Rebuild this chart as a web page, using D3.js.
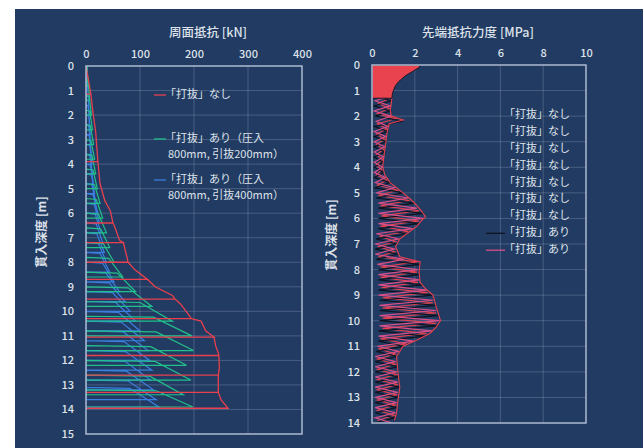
<!DOCTYPE html>
<html><head><meta charset="utf-8">
<script src="https://cdn.jsdelivr.net/npm/d3@7"></script>
<style>body{margin:0;background:#fff}svg{display:block}</style>
</head><body><svg id="c" width="643" height="448"></svg>
<script>
// ---------- LEFT CHART DATA : 周面抵抗 [kN] vs 貫入深度 [m] ----------
const sideTicksX = [0, 100, 200, 300, 400];
const sideTicksY = [0,1,2,3,4,5,6,7,8,9,10,11,12,13,14,15];
// 「打抜」なし  (drop = 1 : load falls back to 0 at that depth)
const redDepth = [0, 0.5, 1.15, 1.9, 2.7, 3.3, 3.9, 4.8, 5.5, 5.9, 6.4, 6.6, 7.1, 7.2, 7.8, 8.0, 8.3, 8.7, 9.0, 9.35, 9.5, 9.7, 10.1, 10.3, 10.4, 10.8, 11.05, 11.4, 11.7, 11.8, 12.3, 12.6, 12.7, 13.2, 13.3, 13.6, 13.95];
const redLoad  = [0, 4, 9, 13, 18, 20, 22, 26, 35, 45, 50, 54, 62, 69, 76, 78, 90, 114, 128, 160, 165, 175, 189, 195, 213, 222, 237, 240, 245, 246, 247, 245, 245, 245, 245, 250, 263];
const redDrop  = [0, 0, 1, 0, 0, 0, 1, 0, 0, 0, 1, 0, 0, 1, 0, 1, 0, 1, 0, 0, 1, 0, 0, 1, 0, 0, 1, 0, 0, 1, 0, 1, 0, 0, 1, 0, 1];
// 「打抜」あり（圧入800mm, 引抜200mm）
const greenTop    = [0, 0.6, 1.2, 1.8, 2.4, 3.0, 3.6, 4.2, 4.8, 5.4, 6.0, 6.6, 7.2, 7.8, 8.4, 9.0, 9.6, 10.2, 10.8, 11.4, 12.0, 12.6, 13.2];
const greenBottom = [0.8, 1.4, 2.0, 2.6, 3.2, 3.8, 4.4, 5.0, 5.6, 6.2, 6.8, 7.4, 8.0, 8.6, 9.2, 9.8, 10.4, 11.0, 11.6, 12.2, 12.8, 13.4, 13.9];
const greenStart  = [2, 4, 6, 7, 8, 9, 11, 13, 16, 19, 23, 27, 32, 42, 58, 78, 100, 125, 130, 120, 128, 118, 130];
const greenPeak   = [4, 7, 10, 12, 14, 16, 18, 21, 26, 31, 38, 44, 52, 68, 92, 122, 160, 196, 199, 186, 194, 180, 198];
// 「打抜」あり（圧入800mm, 引抜400mm）
const blueTop    = [0, 0.4, 0.8, 1.2, 1.6, 2.0, 2.4, 2.8, 3.2, 3.6, 4.0, 4.4, 4.8, 5.2, 5.6, 6.0, 6.4, 6.8, 7.2, 7.6, 8.0, 8.4, 8.8, 9.2, 9.6, 10.0, 10.4, 10.8, 11.2, 11.6, 12.0, 12.4, 12.8, 13.1];
const blueBottom = [0.8, 1.2, 1.6, 2.0, 2.4, 2.8, 3.2, 3.6, 4.0, 4.4, 4.8, 5.2, 5.6, 6.0, 6.4, 6.8, 7.2, 7.6, 8.0, 8.4, 8.8, 9.2, 9.6, 10.0, 10.4, 10.8, 11.2, 11.6, 12.0, 12.4, 12.8, 13.2, 13.6, 13.9];
const blueStart  = [2, 2, 3, 4, 4, 5, 5, 6, 7, 7, 8, 10, 11, 13, 15, 17, 19, 20, 23, 26, 31, 37, 43, 49, 55, 60, 65, 69, 71, 73, 72, 75, 78, 81];
const bluePeak   = [3, 4, 5, 6, 7, 8, 9, 10, 11, 12, 14, 16, 19, 22, 25, 28, 31, 34, 38, 44, 52, 62, 72, 82, 92, 100, 108, 115, 118, 122, 120, 125, 130, 135];

// ---------- RIGHT CHART DATA : 先端抵抗力度 [MPa] vs 貫入深度 [m] ----------
const tipTicksX = [0, 2, 4, 6, 8, 10];
const tipTicksY = [0,1,2,3,4,5,6,7,8,9,10,11,12,13,14];
// 「打抜」なし : near-surface band, envelope and hatch
const tipTopDepth = [0, 0.1, 0.25, 0.4, 0.5, 0.65, 0.8, 1.0, 1.15, 1.3];
const tipTopValue = [2.25, 2.2, 1.9, 1.6, 1.45, 1.25, 1.1, 1.0, 0.95, 0.93];
const tipEnvDepth = [1.3, 1.5, 1.75, 2.0, 2.15, 2.3, 2.66, 3.0, 3.3, 3.6, 4.0, 4.3, 4.6, 5.0, 5.25, 5.5, 5.75, 5.93, 6.1, 6.3, 6.55, 6.8, 7.1, 7.5, 7.7, 8.1, 8.5, 8.75, 9.0, 9.45, 10.0, 10.25, 10.5, 10.75, 11.0, 11.4, 11.9, 12.3, 12.6, 13.2, 13.6, 13.9];
const tipEnvValue = [0.93, 0.9, 0.85, 0.9, 1.45, 0.8, 0.7, 0.65, 0.6, 0.55, 0.5, 0.6, 0.85, 1.45, 1.8, 2.1, 2.35, 2.5, 2.3, 2.1, 1.7, 1.3, 1.1, 1.3, 2.25, 2.2, 2.25, 2.5, 2.85, 3.0, 3.2, 3.0, 2.7, 2.1, 1.45, 1.15, 1.2, 1.25, 1.3, 1.2, 1.15, 1.05];
const tipHatchDepth = [1.3,1.5,1.7,1.9,2.1,2.3,2.5,2.7,2.9,3.1,3.3,3.5,3.7,3.9,4.1,4.3,4.5,4.7,4.9,5.1,5.3,5.5,5.7,5.9,6.1,6.3,6.5,6.7,6.9,7.1,7.3,7.5,7.7,7.9,8.1,8.3,8.5,8.7,8.9,9.1,9.3,9.5,9.7,9.9,10.1,10.3,10.5,10.7,10.9,11.1,11.3,11.5,11.7,11.9,12.1,12.3,12.5,12.7,12.9,13.1,13.3,13.5,13.7,13.9];
const tipRed = [0.85,0.3,0.8,0.25,1.1,0.25,0.7,0.2,0.6,0.2,0.55,0.2,0.5,0.2,0.45,0.2,0.7,0.25,1.2,0.3,1.75,0.4,2.2,0.45,2.2,0.4,1.7,0.35,1.1,0.3,1.05,0.3,2.1,0.4,2.1,0.4,2.15,0.45,2.6,0.5,2.85,0.5,3.0,0.5,3.0,0.5,2.55,0.4,1.6,0.3,1.1,0.25,1.1,0.25,1.15,0.25,1.2,0.25,1.15,0.25,1.1,0.25,1.05,0.25];
// 「打抜」あり (two runs)
const tipCycDepth = [1.2,1.4,1.6,1.8,2.0,2.2,2.4,2.6,2.8,3.0,3.2,3.4,3.6,3.8,4.0,4.2,4.4,4.6,4.8,5.0,5.2,5.4,5.6,5.8,6.0,6.2,6.4,6.6,6.8,7.0,7.2,7.4,7.6,7.8,8.0,8.2,8.4,8.6,8.8,9.0,9.2,9.4,9.6,9.8,10.0,10.2,10.4,10.6,10.8,11.0,11.2,11.4,11.6,11.8,12.0,12.2,12.4,12.6,12.8,13.0,13.2,13.4,13.6,13.8,14.0];
const tipPink  = [0.9,0.15,0.85,0.1,0.9,0.2,0.75,0.1,0.65,0.1,0.6,0.1,0.55,0.1,0.5,0.1,0.62,0.15,1.05,0.2,1.7,0.3,2.1,0.3,2.4,0.3,1.9,0.2,1.25,0.15,1.05,0.15,1.5,0.25,2.15,0.3,2.2,0.3,2.55,0.3,2.85,0.35,3.0,0.35,3.15,0.35,2.8,0.3,1.95,0.25,1.25,0.15,1.1,0.15,1.15,0.15,1.2,0.15,1.2,0.15,1.15,0.15,1.1,0.15,0.95];
const tipBlack = [0.1,0.9,0.1,0.85,0.15,1.45,0.1,0.72,0.1,0.65,0.1,0.6,0.1,0.52,0.1,0.55,0.1,0.85,0.15,1.45,0.2,2.0,0.3,2.4,0.3,2.2,0.3,1.65,0.2,1.15,0.15,1.2,0.2,2.25,0.3,2.2,0.3,2.35,0.3,2.85,0.35,3.0,0.35,3.1,0.35,3.05,0.3,2.5,0.3,1.45,0.2,1.15,0.15,1.2,0.15,1.25,0.15,1.3,0.15,1.2,0.15,1.15,0.15,1.05,0.1];

const legendLeft = [
  {lines:["「打抜」なし"], color:"#e8404e", y:95},
  {lines:["「打抜」あり（圧入","800mm, 引抜200mm）"], color:"#22c08a", y:139},
  {lines:["「打抜」あり（圧入","800mm, 引抜400mm）"], color:"#3a7fe0", y:180}
];
const legendRight = ["「打抜」なし","「打抜」なし","「打抜」なし","「打抜」なし","「打抜」なし","「打抜」なし","「打抜」なし","「打抜」あり","「打抜」あり"];
const legendRightColor = [null,null,null,null,null,null,null,"#0e1420","#d8508a"];

// ---------- DRAWING ----------
const FONT = '"Noto Sans CJK JP","Noto Sans",sans-serif';
const TXT = "#dde2ea";
const svg = d3.select("#c");
svg.append("rect").attr("x",15).attr("y",9).attr("width",628).attr("height",439).attr("fill","#223b62");

const xL = d3.scaleLinear().domain([0,400]).range([86,302]);
const yL = d3.scaleLinear().domain([0,15]).range([66,434]);
const xR = d3.scaleLinear().domain([0,10]).range([372,586]);
const yR = d3.scaleLinear().domain([0,14]).range([65,423]);

function frame(x, y, tx, ty, id) {
  const g = svg.append("g");
  g.selectAll(".gv").data(tx.slice(1,-1)).join("line")
    .attr("x1",d=>x(d)).attr("x2",d=>x(d)).attr("y1",y.range()[0]).attr("y2",y.range()[1])
    .attr("stroke","#8fa0bd").attr("stroke-opacity",0.35).attr("stroke-width",1);
  g.selectAll(".gh").data(ty.slice(1,-1)).join("line")
    .attr("y1",d=>y(d)).attr("y2",d=>y(d)).attr("x1",x.range()[0]).attr("x2",x.range()[1])
    .attr("stroke","#8fa0bd").attr("stroke-opacity",0.35).attr("stroke-width",1);
  const ax = g.append("g").attr("transform",`translate(0,${y.range()[0]-8})`)
    .call(d3.axisTop(x).tickValues(tx).tickSize(0).tickPadding(0));
  ax.select(".domain").remove();
  ax.selectAll("text").attr("fill",TXT).attr("font-family",FONT).attr("font-size",11).attr("font-weight",500);
  const ay = g.append("g").attr("transform",`translate(${x.range()[0]-8},0)`)
    .call(d3.axisLeft(y).tickValues(ty).tickSize(0).tickPadding(4));
  ay.select(".domain").remove();
  ay.selectAll("text").attr("fill",TXT).attr("font-family",FONT).attr("font-size",11).attr("font-weight",500);
  svg.append("clipPath").attr("id",id).append("rect")
    .attr("x",x.range()[0]).attr("y",y.range()[0])
    .attr("width",x.range()[1]-x.range()[0]).attr("height",y.range()[1]-y.range()[0]);
  return g;
}
function border(x, y) {
  svg.append("rect").attr("x",x.range()[0]).attr("y",y.range()[0])
    .attr("width",x.range()[1]-x.range()[0]).attr("height",y.range()[1]-y.range()[0])
    .attr("fill","none").attr("stroke","#aebbd0").attr("stroke-width",1.5);
}

// LEFT
frame(xL, yL, sideTicksX, sideTicksY, "clipL");
const gL = svg.append("g").attr("clip-path","url(#clipL)");
const lineL = d3.line().x(d=>xL(d[1])).y(d=>yL(d[0]));
function cyclePts(top, bottom, start, peak) {
  const pts = [];
  top.forEach((t,i)=>{
    pts.push([t,0]); pts.push([t+0.04,start[i]]); pts.push([bottom[i],peak[i]]); pts.push([bottom[i],0]);
  });
  return pts;
}
gL.append("path").attr("d",lineL(cyclePts(blueTop,blueBottom,blueStart,bluePeak)))
  .attr("fill","none").attr("stroke","#3a7fe0").attr("stroke-width",1.2);
gL.append("path").attr("d",lineL(cyclePts(greenTop,greenBottom,greenStart,greenPeak)))
  .attr("fill","none").attr("stroke","#22c08a").attr("stroke-width",1.2);
const redPts = [];
redDepth.forEach((d,i)=>{
  redPts.push([d,redLoad[i]]);
  if (redDrop[i]) { redPts.push([d,0]); redPts.push([d,redLoad[i]]); }
});
gL.append("path").attr("d",lineL(redPts)).attr("fill","none").attr("stroke","#e8404e").attr("stroke-width",1.3);
border(xL, yL);

// RIGHT
frame(xR, yR, tipTicksX, tipTicksY, "clipR");
const gR = svg.append("g").attr("clip-path","url(#clipR)");
const lineR = d3.line().x(d=>xR(d[1])).y(d=>yR(d[0]));
gR.append("path").attr("d",lineR(tipHatchDepth.map((d,i)=>[d,tipRed[i]])))
  .attr("fill","none").attr("stroke","#e8404e").attr("stroke-width",1.1);
gR.append("path").attr("d",lineR(tipCycDepth.map((d,i)=>[d,tipBlack[i]])))
  .attr("fill","none").attr("stroke","#0e1420").attr("stroke-width",1.2);
gR.append("path").attr("d",lineR(tipCycDepth.map((d,i)=>[d,tipPink[i]])))
  .attr("fill","none").attr("stroke","#d8508a").attr("stroke-width",1.2);
gR.append("path").attr("d",lineR(tipEnvDepth.map((d,i)=>[d,tipEnvValue[i]])))
  .attr("fill","none").attr("stroke","#e8404e").attr("stroke-width",1.1);
const topArea = d3.area().y(d=>yR(d[0])).x0(xR(0)).x1(d=>xR(d[1]));
gR.append("path").attr("d",topArea(tipTopDepth.map((d,i)=>[d,tipTopValue[i]])))
  .attr("fill","#e8434f").attr("stroke","#1a1a28").attr("stroke-width",1);
border(xR, yR);

// titles
svg.append("text").attr("x",208).attr("y",37).attr("text-anchor","middle")
  .attr("fill",TXT).attr("font-family",FONT).attr("font-size",12.5).attr("font-weight",500).text("周面抵抗 [kN]");
svg.append("text").attr("x",478).attr("y",37).attr("text-anchor","middle")
  .attr("fill",TXT).attr("font-family",FONT).attr("font-size",12.5).attr("font-weight",500).text("先端抵抗力度 [MPa]");
[[43,232],[333,235]].forEach(p=>{
  svg.append("text").attr("transform",`translate(${p[0]},${p[1]}) rotate(-90)`)
    .attr("text-anchor","middle").attr("dominant-baseline","middle")
    .attr("fill",TXT).attr("font-family",FONT).attr("font-size",12).attr("font-weight","bold").text("貫入深度 [m]");
});

// left legend
legendLeft.forEach(L=>{
  svg.append("line").attr("x1",154).attr("x2",166).attr("y1",L.y).attr("y2",L.y)
    .attr("stroke",L.color).attr("stroke-width",1.3);
  L.lines.forEach((t,j)=>{
    svg.append("text").attr("x",j===0?165:168).attr("y",L.y+j*16).attr("dominant-baseline","middle")
      .attr("fill",TXT).attr("font-family",FONT).attr("font-size",11).text(t);
  });
});
// right legend
legendRight.forEach((t,i)=>{
  const y = 115 + i*16.9;
  if (legendRightColor[i]) svg.append("line").attr("x1",486).attr("x2",505).attr("y1",y).attr("y2",y)
    .attr("stroke",legendRightColor[i]).attr("stroke-width",1.3);
  svg.append("text").attr("x",504).attr("y",y).attr("dominant-baseline","middle")
    .attr("fill",TXT).attr("font-family",FONT).attr("font-size",11).text(t);
});
</script></body></html>
